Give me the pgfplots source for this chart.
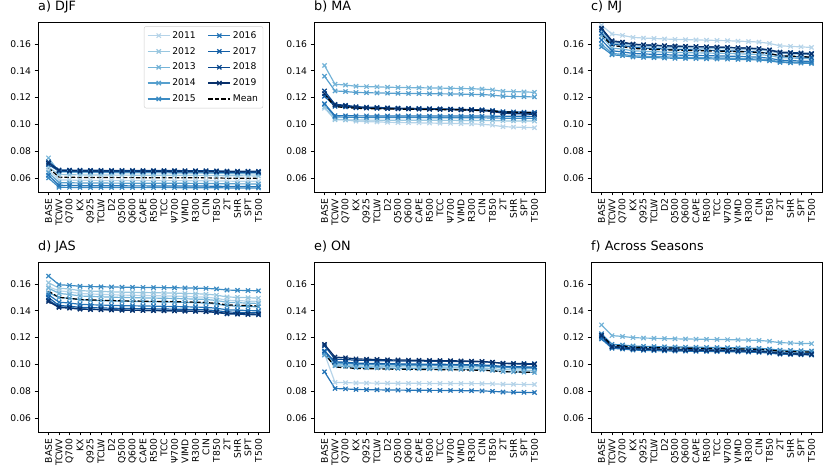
\documentclass[border=0pt]{standalone}
\usepackage{pgfplots}
\pgfplotsset{compat=1.18}
\usepackage{pgfplotstable}
\usepackage{fontspec}
\setmainfont{DejaVu Sans}

% Blues colormap, one shade per year
\definecolor{c11}{HTML}{B6D4E9}
\definecolor{c12}{HTML}{99C7E0}
\definecolor{c13}{HTML}{75B4D8}
\definecolor{c14}{HTML}{57A0CE}
\definecolor{c15}{HTML}{3B8BC3}
\definecolor{c16}{HTML}{2474B7}
\definecolor{c17}{HTML}{125EA6}
\definecolor{c18}{HTML}{08478D}
\definecolor{c19}{HTML}{08306B}

\pgfplotsset{
  panel/.style={
    scale only axis, width=231pt, height=170pt,
    xmin=-1, xmax=21, ymin=0.0495, ymax=0.1765,
    xtick={0,...,20},
    xticklabels={BASE,TCWV,Q700,KX,Q925,TCLW,D2,Q500,Q600,CAPE,R500,TCC,Ψ700,VIMD,R300,CIN,T850,2T,SHR,SPT,T500},
    ytick={0.06,0.08,0.10,0.12,0.14,0.16},
    yticklabel style={/pgf/number format/.cd, fixed, fixed zerofill, precision=2},
    xticklabel style={rotate=90, anchor=east},
    /pgf/number format/assume math mode=true,
    tick label style={font=\fontsize{9.2}{10}\selectfont},
    tick pos=left, tick align=outside, major tick length=3.5pt,
    axis line style={line width=0.8pt}, every tick/.style={black, line width=0.8pt},
    title style={at={(0,1)}, anchor=base west, yshift=5pt, inner sep=0pt, font=\fontsize{12.8}{14}\selectfont},
  },
  yr/.style={line width=1.2pt, mark=x, mark size=3pt, mark options={solid}},
  mn/.style={black, line width=1.2pt, dashed, dash pattern=on 4.5pt off 2pt, no marks},
  lineextra/.style={},
}

\newcommand{\seasonlines}[1]{%
  \addplot[yr, lineextra, c11] table[x=k, y=y11] {#1};
  \addplot[yr, lineextra, c12] table[x=k, y=y12] {#1};
  \addplot[yr, lineextra, c13] table[x=k, y=y13] {#1};
  \addplot[yr, lineextra, c14] table[x=k, y=y14] {#1};
  \addplot[yr, lineextra, c15] table[x=k, y=y15] {#1};
  \addplot[yr, lineextra, c16] table[x=k, y=y16] {#1};
  \addplot[yr, lineextra, c17] table[x=k, y=y17] {#1};
  \addplot[yr, lineextra, c18] table[x=k, y=y18] {#1};
  \addplot[yr, lineextra, c19] table[x=k, y=y19] {#1};
  \addplot[mn, lineextra] table[x=k, y=mn] {#1};
}

\pgfplotstableread{
k y11 y12 y13 y14 y15 y16 y17 y18 y19 mn
0 0.06600 0.06800 0.07500 0.06400 0.06000 0.06200 0.07000 0.07200 0.07100 0.06760
1 0.05850 0.06250 0.06450 0.05650 0.05300 0.05450 0.06500 0.06600 0.06550 0.06060
2 0.05840 0.06240 0.06435 0.05640 0.05295 0.05440 0.06490 0.06590 0.06540 0.06051
3 0.05825 0.06225 0.06412 0.05625 0.05287 0.05425 0.06475 0.06575 0.06525 0.06037
4 0.05820 0.06220 0.06405 0.05620 0.05285 0.05420 0.06470 0.06570 0.06520 0.06033
5 0.05817 0.06217 0.06400 0.05617 0.05283 0.05417 0.06467 0.06567 0.06517 0.06030
6 0.05813 0.06213 0.06394 0.05613 0.05281 0.05413 0.06463 0.06563 0.06513 0.06027
7 0.05810 0.06210 0.06390 0.05610 0.05280 0.05410 0.06460 0.06560 0.06510 0.06024
8 0.05808 0.06208 0.06387 0.05608 0.05279 0.05408 0.06458 0.06558 0.06508 0.06022
9 0.05806 0.06206 0.06384 0.05606 0.05278 0.05406 0.06456 0.06556 0.06506 0.06020
10 0.05804 0.06204 0.06381 0.05604 0.05277 0.05404 0.06454 0.06554 0.06504 0.06019
11 0.05802 0.06202 0.06378 0.05602 0.05276 0.05402 0.06452 0.06552 0.06502 0.06017
12 0.05800 0.06200 0.06375 0.05600 0.05275 0.05400 0.06450 0.06550 0.06500 0.06015
13 0.05797 0.06197 0.06370 0.05597 0.05273 0.05397 0.06447 0.06547 0.06497 0.06012
14 0.05794 0.06194 0.06366 0.05594 0.05272 0.05394 0.06444 0.06544 0.06494 0.06010
15 0.05790 0.06190 0.06360 0.05590 0.05270 0.05390 0.06440 0.06540 0.06490 0.06006
16 0.05780 0.06180 0.06345 0.05580 0.05265 0.05380 0.06430 0.06530 0.06480 0.05997
17 0.05762 0.06162 0.06318 0.05562 0.05256 0.05362 0.06412 0.06512 0.06462 0.05981
18 0.05758 0.06158 0.06312 0.05558 0.05254 0.05358 0.06408 0.06508 0.06458 0.05977
19 0.05754 0.06154 0.06306 0.05554 0.05252 0.05354 0.06404 0.06504 0.06454 0.05974
20 0.05750 0.06150 0.06300 0.05550 0.05250 0.05350 0.06400 0.06500 0.06450 0.05970
}\tabDJF

\pgfplotstableread{
k y11 y12 y13 y14 y15 y16 y17 y18 y19 mn
0 0.11200 0.11300 0.14400 0.13600 0.11500 0.11550 0.12100 0.12500 0.12300 0.12272
1 0.10400 0.10350 0.13000 0.12500 0.10550 0.10650 0.11350 0.11500 0.11450 0.11311
2 0.10335 0.10340 0.12940 0.12455 0.10540 0.10645 0.11305 0.11430 0.11380 0.11268
3 0.10237 0.10325 0.12850 0.12387 0.10525 0.10637 0.11237 0.11325 0.11275 0.11203
4 0.10205 0.10320 0.12820 0.12365 0.10520 0.10635 0.11215 0.11290 0.11240 0.11182
5 0.10185 0.10317 0.12802 0.12351 0.10517 0.10633 0.11201 0.11269 0.11219 0.11169
6 0.10159 0.10313 0.12778 0.12333 0.10513 0.10631 0.11183 0.11241 0.11191 0.11152
7 0.10140 0.10310 0.12760 0.12320 0.10510 0.10630 0.11170 0.11220 0.11170 0.11139
8 0.10127 0.10308 0.12748 0.12311 0.10508 0.10629 0.11161 0.11206 0.11156 0.11130
9 0.10114 0.10306 0.12736 0.12302 0.10506 0.10628 0.11152 0.11192 0.11142 0.11122
10 0.10101 0.10304 0.12724 0.12293 0.10504 0.10627 0.11143 0.11178 0.11128 0.11113
11 0.10088 0.10302 0.12712 0.12284 0.10502 0.10626 0.11134 0.11164 0.11114 0.11105
12 0.10075 0.10300 0.12700 0.12275 0.10500 0.10625 0.11125 0.11150 0.11100 0.11096
13 0.10055 0.10297 0.12682 0.12261 0.10497 0.10623 0.11111 0.11129 0.11079 0.11083
14 0.10036 0.10294 0.12664 0.12248 0.10494 0.10622 0.11098 0.11108 0.11058 0.11070
15 0.10010 0.10290 0.12640 0.12230 0.10490 0.10620 0.11080 0.11080 0.11030 0.11053
16 0.09945 0.10280 0.12580 0.12185 0.10480 0.10615 0.11035 0.11010 0.10960 0.11010
17 0.09828 0.10262 0.12472 0.12104 0.10462 0.10606 0.10954 0.10884 0.10834 0.10933
18 0.09802 0.10258 0.12448 0.12086 0.10458 0.10604 0.10936 0.10856 0.10806 0.10915
19 0.09776 0.10254 0.12424 0.12068 0.10454 0.10602 0.10918 0.10828 0.10778 0.10898
20 0.09750 0.10250 0.12400 0.12050 0.10450 0.10600 0.10900 0.10800 0.10750 0.10881
}\tabMA

\pgfplotstableread{
k y11 y12 y13 y14 y15 y16 y17 y18 y19 mn
0 0.17400 0.17000 0.16600 0.16000 0.15800 0.16300 0.16800 0.17100 0.17200 0.16689
1 0.16750 0.16100 0.15700 0.15300 0.15200 0.15500 0.16000 0.16200 0.16250 0.15889
2 0.16650 0.16010 0.15620 0.15230 0.15135 0.15420 0.15900 0.16110 0.16150 0.15803
3 0.16500 0.15875 0.15500 0.15125 0.15037 0.15300 0.15750 0.15975 0.16000 0.15674
4 0.16450 0.15830 0.15460 0.15090 0.15005 0.15260 0.15700 0.15930 0.15950 0.15631
5 0.16420 0.15803 0.15436 0.15069 0.14985 0.15236 0.15670 0.15903 0.15920 0.15605
6 0.16380 0.15767 0.15404 0.15041 0.14959 0.15204 0.15630 0.15867 0.15880 0.15571
7 0.16350 0.15740 0.15380 0.15020 0.14940 0.15180 0.15600 0.15840 0.15850 0.15545
8 0.16330 0.15722 0.15364 0.15006 0.14927 0.15164 0.15580 0.15822 0.15830 0.15528
9 0.16310 0.15704 0.15348 0.14992 0.14914 0.15148 0.15560 0.15804 0.15810 0.15511
10 0.16290 0.15686 0.15332 0.14978 0.14901 0.15132 0.15540 0.15786 0.15790 0.15493
11 0.16270 0.15668 0.15316 0.14964 0.14888 0.15116 0.15520 0.15768 0.15770 0.15476
12 0.16250 0.15650 0.15300 0.14950 0.14875 0.15100 0.15500 0.15750 0.15750 0.15459
13 0.16220 0.15623 0.15276 0.14929 0.14855 0.15076 0.15470 0.15723 0.15720 0.15433
14 0.16190 0.15596 0.15252 0.14908 0.14836 0.15052 0.15440 0.15696 0.15690 0.15407
15 0.16150 0.15560 0.15220 0.14880 0.14810 0.15020 0.15400 0.15660 0.15650 0.15373
16 0.16050 0.15470 0.15140 0.14810 0.14745 0.14940 0.15300 0.15570 0.15550 0.15287
17 0.15870 0.15308 0.14996 0.14684 0.14628 0.14796 0.15120 0.15408 0.15370 0.15132
18 0.15830 0.15272 0.14964 0.14656 0.14602 0.14764 0.15080 0.15372 0.15330 0.15098
19 0.15790 0.15236 0.14932 0.14628 0.14576 0.14732 0.15040 0.15336 0.15290 0.15063
20 0.15750 0.15200 0.14900 0.14600 0.14550 0.14700 0.15000 0.15300 0.15250 0.15029
}\tabMJ

\pgfplotstableread{
k y11 y12 y13 y14 y15 y16 y17 y18 y19 mn
0 0.15800 0.16100 0.15700 0.15350 0.16600 0.15200 0.15000 0.14800 0.14700 0.15472
1 0.15500 0.15700 0.15300 0.15000 0.15950 0.14650 0.14400 0.14300 0.14250 0.15006
2 0.15420 0.15625 0.15225 0.14930 0.15905 0.14585 0.14345 0.14240 0.14200 0.14942
3 0.15300 0.15512 0.15112 0.14825 0.15837 0.14487 0.14262 0.14150 0.14125 0.14846
4 0.15260 0.15475 0.15075 0.14790 0.15815 0.14455 0.14235 0.14120 0.14100 0.14814
5 0.15236 0.15452 0.15052 0.14769 0.15801 0.14435 0.14218 0.14102 0.14085 0.14795
6 0.15204 0.15422 0.15022 0.14741 0.15783 0.14409 0.14196 0.14078 0.14065 0.14769
7 0.15180 0.15400 0.15000 0.14720 0.15770 0.14390 0.14180 0.14060 0.14050 0.14750
8 0.15164 0.15385 0.14985 0.14706 0.15761 0.14377 0.14169 0.14048 0.14040 0.14737
9 0.15148 0.15370 0.14970 0.14692 0.15752 0.14364 0.14158 0.14036 0.14030 0.14724
10 0.15132 0.15355 0.14955 0.14678 0.15743 0.14351 0.14147 0.14024 0.14020 0.14712
11 0.15116 0.15340 0.14940 0.14664 0.15734 0.14338 0.14136 0.14012 0.14010 0.14699
12 0.15100 0.15325 0.14925 0.14650 0.15725 0.14325 0.14125 0.14000 0.14000 0.14686
13 0.15076 0.15302 0.14902 0.14629 0.15711 0.14305 0.14108 0.13982 0.13985 0.14667
14 0.15052 0.15280 0.14880 0.14608 0.15698 0.14286 0.14092 0.13964 0.13970 0.14648
15 0.15020 0.15250 0.14850 0.14580 0.15680 0.14260 0.14070 0.13940 0.13950 0.14622
16 0.14940 0.15175 0.14775 0.14510 0.15635 0.14195 0.14015 0.13880 0.13900 0.14558
17 0.14796 0.15040 0.14640 0.14384 0.15554 0.14078 0.13916 0.13772 0.13810 0.14443
18 0.14764 0.15010 0.14610 0.14356 0.15536 0.14052 0.13894 0.13748 0.13790 0.14417
19 0.14732 0.14980 0.14580 0.14328 0.15518 0.14026 0.13872 0.13724 0.13770 0.14392
20 0.14700 0.14950 0.14550 0.14300 0.15500 0.14000 0.13850 0.13700 0.13750 0.14366
}\tabJAS

\pgfplotstableread{
k y11 y12 y13 y14 y15 y16 y17 y18 y19 mn
0 0.10800 0.10900 0.11000 0.10700 0.10900 0.09450 0.11000 0.11400 0.11500 0.10850
1 0.08650 0.10000 0.10100 0.09900 0.10150 0.08200 0.10200 0.10400 0.10550 0.09794
2 0.08635 0.09955 0.10060 0.09850 0.10110 0.08170 0.10160 0.10365 0.10495 0.09755
3 0.08612 0.09887 0.10000 0.09775 0.10050 0.08125 0.10100 0.10312 0.10412 0.09696
4 0.08605 0.09865 0.09980 0.09750 0.10030 0.08110 0.10080 0.10295 0.10385 0.09677
5 0.08600 0.09851 0.09968 0.09735 0.10018 0.08101 0.10068 0.10284 0.10368 0.09665
6 0.08594 0.09833 0.09952 0.09715 0.10002 0.08089 0.10052 0.10270 0.10346 0.09650
7 0.08590 0.09820 0.09940 0.09700 0.09990 0.08080 0.10040 0.10260 0.10330 0.09638
8 0.08587 0.09811 0.09932 0.09690 0.09982 0.08074 0.10032 0.10253 0.10319 0.09630
9 0.08584 0.09802 0.09924 0.09680 0.09974 0.08068 0.10024 0.10246 0.10308 0.09622
10 0.08581 0.09793 0.09916 0.09670 0.09966 0.08062 0.10016 0.10239 0.10297 0.09615
11 0.08578 0.09784 0.09908 0.09660 0.09958 0.08056 0.10008 0.10232 0.10286 0.09607
12 0.08575 0.09775 0.09900 0.09650 0.09950 0.08050 0.10000 0.10225 0.10275 0.09599
13 0.08570 0.09761 0.09888 0.09635 0.09938 0.08041 0.09988 0.10214 0.10258 0.09587
14 0.08566 0.09748 0.09876 0.09620 0.09926 0.08032 0.09976 0.10204 0.10242 0.09576
15 0.08560 0.09730 0.09860 0.09600 0.09910 0.08020 0.09960 0.10190 0.10220 0.09560
16 0.08545 0.09685 0.09820 0.09550 0.09870 0.07990 0.09920 0.10155 0.10165 0.09521
17 0.08518 0.09604 0.09748 0.09460 0.09798 0.07936 0.09848 0.10092 0.10066 0.09451
18 0.08512 0.09586 0.09732 0.09440 0.09782 0.07924 0.09832 0.10078 0.10044 0.09435
19 0.08506 0.09568 0.09716 0.09420 0.09766 0.07912 0.09816 0.10064 0.10022 0.09420
20 0.08500 0.09550 0.09700 0.09400 0.09750 0.07900 0.09800 0.10050 0.10000 0.09404
}\tabON

\pgfplotstableread{
k y11 y12 y13 y14 y15 y16 y17 y18 y19 mn
0 0.12200 0.12100 0.12950 0.12000 0.12300 0.11900 0.12050 0.12200 0.12150 0.12206
1 0.11400 0.11350 0.12150 0.11250 0.11500 0.11200 0.11300 0.11350 0.11300 0.11422
2 0.11360 0.11305 0.12090 0.11205 0.11450 0.11150 0.11250 0.11290 0.11245 0.11372
3 0.11300 0.11237 0.12000 0.11137 0.11375 0.11075 0.11175 0.11200 0.11162 0.11297
4 0.11280 0.11215 0.11970 0.11115 0.11350 0.11050 0.11150 0.11170 0.11135 0.11272
5 0.11268 0.11201 0.11952 0.11101 0.11335 0.11035 0.11135 0.11152 0.11118 0.11257
6 0.11252 0.11183 0.11928 0.11083 0.11315 0.11015 0.11115 0.11128 0.11096 0.11237
7 0.11240 0.11170 0.11910 0.11070 0.11300 0.11000 0.11100 0.11110 0.11080 0.11222
8 0.11232 0.11161 0.11898 0.11061 0.11290 0.10990 0.11090 0.11098 0.11069 0.11212
9 0.11224 0.11152 0.11886 0.11052 0.11280 0.10980 0.11080 0.11086 0.11058 0.11202
10 0.11216 0.11143 0.11874 0.11043 0.11270 0.10970 0.11070 0.11074 0.11047 0.11192
11 0.11208 0.11134 0.11862 0.11034 0.11260 0.10960 0.11060 0.11062 0.11036 0.11182
12 0.11200 0.11125 0.11850 0.11025 0.11250 0.10950 0.11050 0.11050 0.11025 0.11172
13 0.11188 0.11111 0.11832 0.11011 0.11235 0.10935 0.11035 0.11032 0.11008 0.11157
14 0.11176 0.11098 0.11814 0.10998 0.11220 0.10920 0.11020 0.11014 0.10992 0.11142
15 0.11160 0.11080 0.11790 0.10980 0.11200 0.10900 0.11000 0.10990 0.10970 0.11122
16 0.11120 0.11035 0.11730 0.10935 0.11150 0.10850 0.10950 0.10930 0.10915 0.11072
17 0.11048 0.10954 0.11622 0.10854 0.11060 0.10760 0.10860 0.10822 0.10816 0.10982
18 0.11032 0.10936 0.11598 0.10836 0.11040 0.10740 0.10840 0.10798 0.10794 0.10962
19 0.11016 0.10918 0.11574 0.10818 0.11020 0.10720 0.10820 0.10774 0.10772 0.10942
20 0.11000 0.10900 0.11550 0.10800 0.11000 0.10700 0.10800 0.10750 0.10750 0.10922
}\tabALL

\begin{document}
\begin{tikzpicture}
\path[use as bounding box] (0,0) rectangle (830pt,473pt);

\begin{axis}[panel, at={(38pt,281pt)}, anchor=south west, title={a) DJF},
  lineextra/.style={forget plot},
  legend columns=2,
  legend image code/.code={\draw[mark repeat=2, mark phase=2] plot coordinates {(0pt,0pt) (11pt,0pt) (22pt,0pt)};},
  legend style={at={(0.975,0.975)}, anchor=north east, font=\fontsize{9.2}{10}\selectfont,
    draw=black!20, rounded corners=2pt, fill=white, fill opacity=0.8, text opacity=1,
    inner sep=3pt, nodes={inner sep=2pt},
    /tikz/column 2/.style={column sep=10pt}, row sep=3.5pt},
  legend cell align=left]
\seasonlines{\tabDJF}
% legend filled row by row so that it reads column by column
\addlegendimage{yr, c11} \addlegendimage{yr, c16}
\addlegendimage{yr, c12} \addlegendimage{yr, c17}
\addlegendimage{yr, c13} \addlegendimage{yr, c18}
\addlegendimage{yr, c14} \addlegendimage{yr, c19}
\addlegendimage{yr, c15} \addlegendimage{mn}
\legend{2011,2016,2012,2017,2013,2018,2014,2019,2015,Mean}
\end{axis}

\begin{axis}[panel, at={(314pt,281pt)}, anchor=south west, title={b) MA}]
\seasonlines{\tabMA}
\end{axis}

\begin{axis}[panel, at={(591pt,281pt)}, anchor=south west, title={c) MJ}]
\seasonlines{\tabMJ}
\end{axis}

\begin{axis}[panel, at={(38pt,41pt)}, anchor=south west, title={d) JAS}]
\seasonlines{\tabJAS}
\end{axis}

\begin{axis}[panel, at={(314pt,41pt)}, anchor=south west, title={e) ON}]
\seasonlines{\tabON}
\end{axis}

\begin{axis}[panel, at={(591pt,41pt)}, anchor=south west, title={f) Across Seasons}]
\seasonlines{\tabALL}
\end{axis}
\end{tikzpicture}
\end{document}
